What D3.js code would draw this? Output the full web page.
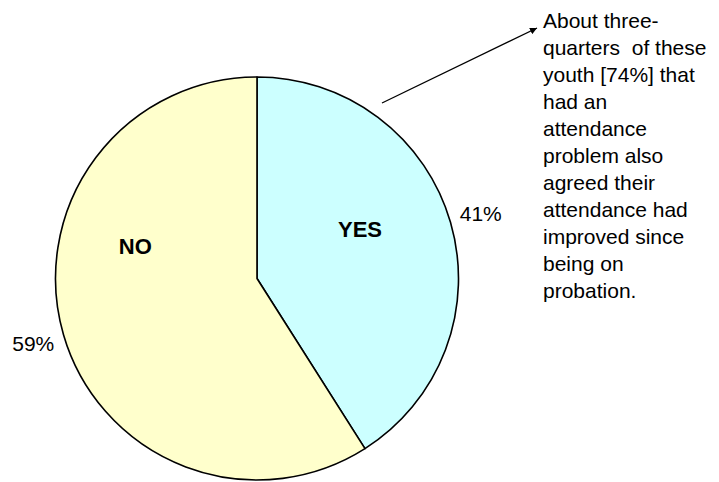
<!DOCTYPE html>
<html>
<head>
<meta charset="utf-8">
<script src="https://cdn.jsdelivr.net/npm/d3@7"></script>
<style>
  html, body { margin: 0; padding: 0; background: #fff; }
  svg { display: block; }
  text { font-family: Arial, "Liberation Sans", sans-serif; }
</style>
</head>
<body>
<svg id="chart" width="719" height="482"></svg>
<script>
// ---- data ----
const categories = ["YES", "NO"];
const values = [41, 59];
const percentLabels = ["41%", "59%"];
const annotationLines = [
  "About three-",
  "quarters  of these",
  "youth [74%] that",
  "had an",
  "attendance",
  "problem also",
  "agreed their",
  "attendance had",
  "improved since",
  "being on",
  "probation."
];

// ---- layout ----
const colors = d3.scaleOrdinal().domain(categories).range(["#CCFFFF", "#FFFFCC"]);
const cx = 257, cy = 278.5, r = 201.5;
const svg = d3.select("#chart");
const g = svg.append("g").attr("transform", `translate(${cx},${cy})`);

const pie = d3.pie().sort(null).value(d => d.v);
const arcs = pie(categories.map((c, i) => ({ c, v: values[i], p: percentLabels[i] })));
const arc = d3.arc().innerRadius(0).outerRadius(r);

g.selectAll("path.slice").data(arcs).enter().append("path")
  .attr("class", "slice")
  .attr("d", arc)
  .attr("fill", d => colors(d.data.c))
  .attr("stroke", "#000")
  .attr("stroke-width", 1.6)
  .attr("stroke-linejoin", "round");

// category labels inside (manual placement in polar coordinates)
const innerPlace = { "YES": { a: 64.6, d: 114 }, "NO": { a: 285, d: 126 } };
g.selectAll("text.cat").data(arcs).enter().append("text")
  .attr("class", "cat")
  .attr("x", d => innerPlace[d.data.c].d * Math.sin(innerPlace[d.data.c].a * Math.PI / 180))
  .attr("y", d => -innerPlace[d.data.c].d * Math.cos(innerPlace[d.data.c].a * Math.PI / 180))
  .attr("text-anchor", "middle")
  .attr("dy", "0.35em")
  .attr("font-size", 22)
  .attr("font-weight", "bold")
  .attr("fill", "#000")
  .text(d => d.data.c);

// percent labels outside, along mid-angle
const outerArc = d3.arc().innerRadius(233).outerRadius(233);
g.selectAll("text.pct").data(arcs).enter().append("text")
  .attr("class", "pct")
  .attr("x", d => outerArc.centroid(d)[0])
  .attr("y", d => outerArc.centroid(d)[1])
  .attr("text-anchor", "middle")
  .attr("dy", "0.35em")
  .attr("font-size", 21)
  .attr("fill", "#000")
  .text(d => d.data.p);

// arrow annotation
const defs = svg.append("defs");
defs.append("marker")
  .attr("id", "arrow")
  .attr("viewBox", "0 0 10 10")
  .attr("refX", 10).attr("refY", 5)
  .attr("markerWidth", 7).attr("markerHeight", 7)
  .attr("markerUnits", "userSpaceOnUse")
  .attr("orient", "auto")
  .append("path").attr("d", "M0,0 L10,5 L0,10 Z").attr("fill", "#000");

svg.append("line")
  .attr("x1", 382).attr("y1", 103)
  .attr("x2", 537).attr("y2", 28)
  .attr("stroke", "#000").attr("stroke-width", 1.3)
  .attr("marker-end", "url(#arrow)");

const ann = svg.append("text")
  .attr("x", 543).attr("y", 28)
  .attr("font-size", 21)
  .attr("fill", "#000")
  .attr("xml:space", "preserve")
  .style("white-space", "pre");
ann.selectAll("tspan").data(annotationLines).enter().append("tspan")
  .attr("x", 543)
  .attr("dy", (d, i) => i === 0 ? 0 : 27)
  .text(d => d);
</script>
</body>
</html>
